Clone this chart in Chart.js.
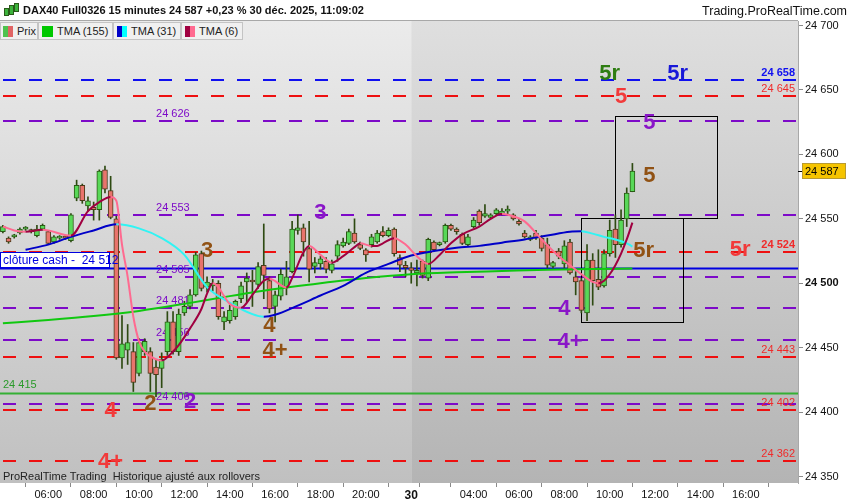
<!DOCTYPE html>
<html><head><meta charset="utf-8">
<script src="https://cdn.jsdelivr.net/npm/chart.js@4/dist/chart.umd.min.js"></script>
<style>
html,body{margin:0;padding:0;background:#fff;}
#wrap{position:relative;width:850px;height:500px;overflow:hidden;font-family:"Liberation Sans",Arial,sans-serif;}
#c{position:absolute;left:0;top:0;}
#title{position:absolute;left:23px;top:4px;font-weight:bold;font-size:11px;color:#111;white-space:nowrap;}
#icon{position:absolute;left:4px;top:3px;width:14px;height:15px;}
#icon span{position:absolute;width:3px;background:#3cb43c;border:1px solid #2a5a1a;}
#site{position:absolute;right:3px;top:4px;font-size:12.5px;color:#111;white-space:nowrap;}
.lg{position:absolute;top:22px;height:18px;background:#f0f0f0;border:1px solid #c4c4c4;font-size:11px;line-height:17px;color:#222;box-sizing:border-box;white-space:nowrap;}
.lg b{font-weight:normal;position:absolute;top:0;}
.sw{position:absolute;top:3px;width:5px;height:11px;}
#foot{position:absolute;left:3px;top:470px;font-size:11px;color:#222;white-space:nowrap;}
</style></head>
<body>
<div id="wrap">
<canvas id="c" width="850" height="500"></canvas>
<div id="icon"><span style="left:0;top:5px;height:6px"></span><span style="left:5px;top:2px;height:8px"></span><span style="left:10px;top:0;height:7px"></span></div>
<div id="title">DAX40 Full0326 15 minutes 24 587 +0,23 % 30 déc. 2025, 11:09:02</div>
<div id="site">Trading.ProRealTime.com</div>
<div class="lg" style="left:0;width:38px"><span class="sw" style="left:2px;background:#4ec24e"></span><span class="sw" style="left:7px;background:#e06464"></span><b style="left:16px">Prix</b></div>
<div class="lg" style="left:38px;width:75px"><span class="sw" style="left:3px;width:11px;background:#00c800"></span><b style="left:18px">TMA (155)</b></div>
<div class="lg" style="left:113px;width:68px"><span class="sw" style="left:3px;background:#0000c8"></span><span class="sw" style="left:8px;background:#00ffff"></span><b style="left:17px">TMA (31)</b></div>
<div class="lg" style="left:181px;width:62px"><span class="sw" style="left:3px;background:#a00040"></span><span class="sw" style="left:8px;background:#ff6a90"></span><b style="left:17px">TMA (6)</b></div>
<div id="foot">ProRealTime Trading&nbsp; Historique ajusté aux rollovers</div>
</div>
<script>
// ---------- categories (15-minute candles) ----------
const day29Start = "04:00", day29End = "21:45", day30Start = "01:15", day30End = "11:00";
function toMin(s){const [h,m]=s.split(':').map(Number);return h*60+m;}
function slotOf(t){ // t = "29 06:00"
  const [d,hm]=t.split(' ');
  if(d==='29') return (toMin(hm)-toMin(day29Start))/15;
  const n29=(toMin(day29End)-toMin(day29Start))/15+1;
  return n29+(toMin(hm)-toMin(day30Start))/15;
}
const candleTimes=[];
for(let m=toMin(day29Start);m<=toMin(day29End);m+=15) candleTimes.push('29 '+String(Math.floor(m/60)).padStart(2,'0')+':'+String(m%60).padStart(2,'0'));
for(let m=toMin(day30Start);m<=toMin(day30End);m+=15) candleTimes.push('30 '+String(Math.floor(m/60)).padStart(2,'0')+':'+String(m%60).padStart(2,'0'));

// ---------- OHLC ----------
const opens=[24540,24535,24536,24539,24542,24541,24537,24542,24540,24532,24535,24536,24533,24566,24576,24560,24559,24557,24588,24572,
24550,24442,24448,24447,24430,24447,24447,24435,24434,24447,24470,24447,24477,24482,24491,24523,24497,24498,24500,24470,
24471,24474,24488,24501,24502,24499,24514,24502,24482,24490,24497,24509,24541,24543,24527,24513,24515,24517,24510,24521,
24529,24531,24539,24530,24526,24530,24532,24540,24537,24542,24520,24514,
24512,24508,24517,24504,24532,24530,24532,24545,24542,24538,24530,24544,24556,24552,24551,24554,24554,24556,24553,24548,
24539,24534,24539,24535,24530,24513,24525,24515,24532,24505,24502,24477,24518,24503,24498,24523,24542,24530,24550,24571];
const highs=[24545,24536,24538,24543,24544,24542,24545,24546,24541,24537,24537,24537,24554,24580,24577,24567,24563,24588,24591,24583,
24552,24475,24468,24454,24457,24457,24450,24441,24446,24478,24478,24480,24486,24495,24524,24525,24505,24503,24502,24478,
24483,24487,24501,24508,24510,24516,24546,24505,24494,24511,24517,24548,24553,24546,24548,24520,24521,24520,24518,24533,
24535,24542,24550,24532,24527,24538,24541,24544,24543,24543,24522,24517,
24516,24518,24518,24535,24533,24532,24546,24546,24543,24539,24538,24551,24557,24561,24554,24558,24558,24560,24554,24550,
24541,24537,24541,24537,24535,24517,24527,24533,24534,24509,24504,24530,24523,24526,24526,24549,24553,24557,24574,24593];
const lows=[24539,24531,24535,24538,24541,24539,24536,24541,24530,24531,24534,24534,24532,24564,24562,24556,24549,24549,24570,24550,
24441,24434,24437,24416,24428,24444,24416,24412,24419,24444,24445,24444,24475,24480,24490,24494,24493,24494,24472,24464,
24469,24472,24485,24485,24482,24496,24488,24477,24470,24487,24491,24508,24538,24521,24501,24508,24511,24508,24508,24517,
24528,24530,24531,24526,24517,24528,24531,24536,24536,24521,24509,24505,
24500,24498,24504,24502,24525,24529,24531,24541,24538,24530,24529,24543,24545,24551,24550,24553,24553,24553,24549,24545,
24535,24533,24534,24525,24512,24512,24519,24512,24507,24491,24477,24471,24483,24495,24497,24521,24520,24528,24544,24571];
const closes=[24544,24532,24537,24542,24543,24540,24542,24545,24531,24536,24536,24535,24553,24576,24564,24564,24557,24587,24573,24551,
24442,24453,24454,24423,24454,24455,24430,24429,24441,24470,24447,24476,24482,24491,24522,24496,24501,24500,24474,24474,
24479,24486,24498,24504,24501,24513,24506,24480,24491,24507,24505,24542,24543,24532,24511,24516,24519,24511,24515,24530,
24532,24540,24532,24527,24522,24536,24539,24537,24541,24523,24514,24512,
24510,24510,24506,24534,24526,24531,24545,24542,24540,24531,24536,24549,24547,24554,24553,24557,24556,24557,24550,24546,
24536,24536,24535,24527,24514,24516,24521,24529,24508,24501,24479,24518,24502,24497,24523,24541,24530,24549,24570,24587];

// ---------- moving averages (read at key candles) ----------
const tma155Times=["29 04:00","29 06:00","29 08:00","29 10:00","29 12:00","29 14:00","29 16:00","29 18:00","29 20:00","30 01:15","30 03:15","30 05:15","30 07:15","30 09:15","30 11:00"];
const tma155Vals=[24469,24471.5,24474.5,24478.5,24484,24490,24495.5,24500,24504,24507,24508.5,24509.5,24510.5,24511,24511.5];
const tma31Times=["29 05:00","29 06:00","29 07:00","29 08:00","29 09:00","29 10:00","29 11:00","29 12:00","29 13:00","29 14:00","29 15:00","29 15:30","29 16:00","29 17:00","29 18:00","29 19:00","29 20:00","29 21:00","30 01:15","30 02:15","30 03:15","30 04:15","30 05:15","30 06:15","30 07:15","30 08:15","30 08:45","30 09:15","30 09:45","30 10:15","30 10:45","30 11:00"];
const tma31Vals=[24526,24530,24536,24541,24545.7,24542.6,24535,24522,24497,24485,24476,24474,24475.5,24482.6,24490.5,24498,24508,24515,24521.5,24525,24527.5,24529,24531.5,24534,24537,24540,24540.3,24538.5,24536,24534,24531,24528.5];
const tma6Times=["29 04:00","29 04:30","29 05:00","29 05:45","29 07:00","29 07:45","29 08:15","29 08:45","29 09:00","29 09:15","29 09:30","29 09:45","29 10:00","29 10:15","29 10:45","29 11:00","29 11:30","29 11:45","29 12:15","29 12:45","29 13:00","29 13:15","29 13:30","29 13:45","29 14:00","29 14:30","29 15:00","29 15:30","29 15:45","29 16:30","29 16:45","29 17:15","29 17:30","29 18:00","29 18:30","29 19:00","29 19:30","29 19:45","29 20:15","29 20:30","29 20:45","29 21:15","29 21:45","30 01:30","30 02:00","30 02:30","30 03:00","30 03:30","30 04:15","30 04:45","30 05:15","30 05:45","30 06:15","30 07:00","30 07:45","30 08:15","30 08:45","30 09:15","30 09:30","30 09:45","30 10:00","30 10:15","30 10:30","30 10:45","30 11:00"];
const tma6Vals=[24544,24541,24540,24541.5,24537,24556,24563,24567,24564,24530,24505,24474,24455,24447,24441,24440,24447,24452,24465,24480,24492,24500,24497,24490,24484,24481,24491,24502,24503.5,24496.7,24504,24524,24529,24522,24516,24521,24528,24531,24529,24529,24531,24535,24530,24521,24515,24522,24531,24538,24544,24550,24554,24552,24548,24534,24521,24514,24507,24501,24500,24502,24507,24514,24523,24534,24547];

// ---------- levels ----------
const blueLevels=[24658];
const blueLevelLabels=["24 658"];
const redLevels=[24645,24524,24443,24402,24362];
const redLevelLabels=["24 645","24 524","24 443","24 402","24 362"];
const purpleLevels=[24626,24553,24505,24481,24456,24406];
const purpleLevelLabels=["24 626","24 553","24 505","24 481","24 456","24 406"];
const cashClose=24512, cashLabel="clôture cash -  24 512";
const supportLevel=24415, supportLabel="24 415";
const lastPrice=24587, lastLabel="24 587";

// ---------- wave annotations [text, time, price, colour-key] ----------
const waveText =["5r","5r","5","5","5","5r","5r","3","3","4","4+","4","4+","4","2","2","4+"];
const waveTime =["30 10:00","30 13:00","30 10:30","30 11:45","30 11:45","30 11:30","30 15:45","29 18:00","29 13:00","29 15:45","29 16:00","30 08:00","30 08:15","29 08:45","29 10:30","29 12:15","29 08:45"];
const wavePrice=[24663,24663,24645,24625,24584,24526,24527,24555,24526,24468,24448,24481,24455,24402,24407,24409,24362];
const waveColor=["green","blue","red","purple","brown","brown","red","purple","brown","brown","brown","purple","purple","red","brown","purple","red"];
// boxes [time from, time to, price top, price bottom]
const boxFrom=["30 10:15","30 08:45"], boxTo=["30 14:45","30 13:15"], boxTop=[24630,24550.5], boxBottom=[24550.5,24470];

// ---------- axis ticks ----------
const tickTimes=["29 06:00","29 08:00","29 10:00","29 12:00","29 14:00","29 16:00","29 18:00","29 20:00","30 01:15","30 02:00","30 04:00","30 06:00","30 08:00","30 10:00","30 12:00","30 14:00","30 16:00"];
const tickLabels=["06:00","08:00","10:00","12:00","14:00","16:00","18:00","20:00","30","","04:00","06:00","08:00","10:00","12:00","14:00","16:00"];
const priceTicks=[24350,24400,24450,24500,24550,24600,24650,24700];

// ---------- styles ----------
const FONT='"Liberation Sans", Arial, sans-serif';
const COL={green:'#2e7d12',blue:'#1818d8',red:'#f23a3a',purple:'#8a16c8',brown:'#915214'};
const fmt=v=>String(v).replace(/(\d{2})(\d{3})$/,'$1 $2');

const xs=candleTimes.map(slotOf);
const bodies=opens.map((o,i)=>({x:xs[i],y:[o,closes[i]]}));
const wicks=lows.map((l,i)=>({x:xs[i],y:[l,highs[i]]}));
const up=opens.map((o,i)=>closes[i]>=o);
const pts=(t,v)=>t.map((s,i)=>({x:slotOf(s),y:v[i]}));
const dayBreak=slotOf("30 01:15");

const decor={
  id:'decor',
  beforeDraw(chart){
    const {ctx,chartArea:a,scales:{x}}=chart;
    const s=x.getPixelForValue(dayBreak);
    ctx.save();
    let g=ctx.createLinearGradient(0,a.top,0,a.bottom);
    g.addColorStop(0,'#ebebeb');g.addColorStop(1,'#c0c0c0');
    ctx.fillStyle=g;ctx.fillRect(a.left,a.top,s-a.left,a.bottom-a.top);
    g=ctx.createLinearGradient(0,a.top,0,a.bottom);
    g.addColorStop(0,'#dfdfdf');g.addColorStop(1,'#b4b4b4');
    ctx.fillStyle=g;ctx.fillRect(s,a.top,a.right-s,a.bottom-a.top);
    ctx.strokeStyle='#a8a8a8';ctx.lineWidth=1;
    ctx.beginPath();ctx.moveTo(a.left,a.top-0.5);ctx.lineTo(a.right,a.top-0.5);ctx.stroke();
    ctx.restore();
  },
  beforeDatasetsDraw(chart){
    const {ctx,chartArea:a,scales:{x,y}}=chart;
    ctx.save();
    ctx.beginPath();ctx.rect(a.left,a.top,a.right-a.left,a.bottom-a.top);ctx.clip();
    const dash=(v,c)=>{const py=Math.round(y.getPixelForValue(v));ctx.strokeStyle=c;ctx.lineWidth=2;ctx.setLineDash([13,13]);ctx.beginPath();ctx.moveTo(a.left+3,py);ctx.lineTo(a.right,py);ctx.stroke();};
    const solid=(v,c)=>{const py=Math.round(y.getPixelForValue(v))+0.5;ctx.strokeStyle=c;ctx.lineWidth=2;ctx.setLineDash([]);ctx.beginPath();ctx.moveTo(a.left,py);ctx.lineTo(a.right,py);ctx.stroke();};
    purpleLevels.forEach(v=>dash(v,'#7d0ac8'));
    redLevels.forEach(v=>dash(v,'#ee1010'));
    blueLevels.forEach(v=>dash(v,'#1010f0'));
    solid(supportLevel,'#34b034');
    solid(cashClose,'#0000e0');
    ctx.setLineDash([]);
    // level labels
    ctx.textBaseline='alphabetic';
    ctx.textAlign='left';ctx.font='11px '+FONT;ctx.fillStyle='#7d0ac8';
    const lx=x.getPixelForValue(slotOf("29 10:45"));
    purpleLevels.forEach((v,i)=>ctx.fillText(purpleLevelLabels[i],lx,y.getPixelForValue(v)-4));
    ctx.textAlign='right';
    redLevels.forEach((v,i)=>{ctx.font=(v===24524?'bold ':'')+'11px '+FONT;ctx.fillStyle='#f02a2a';ctx.fillText(redLevelLabels[i],a.right-3,y.getPixelForValue(v)-4);});
    ctx.font='bold 11px '+FONT;ctx.fillStyle='#1010f0';
    blueLevels.forEach((v,i)=>ctx.fillText(blueLevelLabels[i],a.right-3,y.getPixelForValue(v)-4));
    ctx.textAlign='left';ctx.font='11px '+FONT;ctx.fillStyle='#2a9a2a';
    ctx.fillText(supportLabel,a.left+3,y.getPixelForValue(supportLevel)-5);
    // boxes
    ctx.strokeStyle='#000';ctx.lineWidth=1;
    boxFrom.forEach((t,i)=>{const x0=Math.round(x.getPixelForValue(slotOf(t)))+0.5,x1=Math.round(x.getPixelForValue(slotOf(boxTo[i])))+0.5;
      const y0=Math.round(y.getPixelForValue(boxTop[i]))+0.5,y1=Math.round(y.getPixelForValue(boxBottom[i]))+0.5;ctx.strokeRect(x0,y0,x1-x0,y1-y0);});
    // wave labels
    ctx.font='bold 22px '+FONT;ctx.textAlign='center';ctx.textBaseline='middle';
    waveText.forEach((t,i)=>{ctx.fillStyle=COL[waveColor[i]];ctx.fillText(t,x.getPixelForValue(slotOf(waveTime[i])),y.getPixelForValue(wavePrice[i])+1);});
    ctx.restore();
  },
  afterDatasetsDraw(chart){
    const {ctx,chartArea:a,scales:{x,y}}=chart;
    ctx.save();
    // cash close box
    const cy=Math.round(y.getPixelForValue(cashClose));
    ctx.fillStyle='#fff';ctx.fillRect(a.left,cy-16,110,16);
    ctx.strokeStyle='#0000e0';ctx.lineWidth=1;ctx.strokeRect(a.left+0.5,cy-15.5,109,15);
    ctx.fillStyle='#0000e0';ctx.font='12px '+FONT;ctx.textBaseline='middle';ctx.textAlign='left';
    ctx.fillText(cashLabel,a.left+3,cy-7.5);
    // last price tag
    const py=Math.round(y.getPixelForValue(lastPrice));
    ctx.fillStyle='#f5c400';ctx.fillRect(a.right+4,py-8,44,16);
    ctx.strokeStyle='#b89a30';ctx.strokeRect(a.right+4.5,py-7.5,43,15);
    ctx.strokeStyle='#000';ctx.beginPath();ctx.moveTo(a.right,py+0.5);ctx.lineTo(a.right+4,py+0.5);ctx.stroke();
    ctx.fillStyle='#000';ctx.font='11px '+FONT;ctx.fillText(lastLabel,a.right+7,py+0.5);
    ctx.restore();
  }
};

new Chart(document.getElementById('c'),{
  type:'bar',
  data:{datasets:[
    {type:'line',label:'TMA (6)',data:pts(tma6Times,tma6Vals),borderWidth:2,pointRadius:0,cubicInterpolationMode:'monotone',order:0,
      segment:{borderColor:c=>c.p1.parsed.y>=c.p0.parsed.y?'#a00040':'#ff6a90'},borderColor:'#a00040'},
    {type:'line',label:'TMA (31)',data:pts(tma31Times,tma31Vals),borderWidth:2,pointRadius:0,cubicInterpolationMode:'monotone',order:1,
      segment:{borderColor:c=>c.p1.parsed.y>=c.p0.parsed.y?'#0000c8':'#30f4f4'},borderColor:'#0000c8'},
    {type:'line',label:'TMA (155)',data:pts(tma155Times,tma155Vals),borderWidth:2,pointRadius:0,cubicInterpolationMode:'monotone',order:2,borderColor:'#10c810'},
    {label:'body',data:bodies,grouped:false,barThickness:5,minBarLength:2,borderWidth:1,borderSkipped:false,order:3,
      backgroundColor:up.map(u=>u?'#58d858':'#e8746c'),borderColor:up.map(u=>u?'#2a5a14':'#4a3a1a')},
    {label:'wick',data:wicks,grouped:false,barThickness:1,borderWidth:0,order:4,backgroundColor:'#2e4a12'}
  ]},
  options:{
    responsive:false,animation:false,
    layout:{padding:{top:21,left:0,right:0,bottom:0}},
    plugins:{legend:{display:false},tooltip:{enabled:false}},
    scales:{
      x:{type:'linear',min:-0.51,max:140.2,offset:false,
        afterBuildTicks:s=>{s.ticks=tickTimes.map(t=>({value:slotOf(t)}));},
        afterFit:s=>{s.height=17;},
        ticks:{autoSkip:false,maxRotation:0,padding:1,color:'#111',
          callback:(v,i)=>tickLabels[i],
          font:c=>({family:FONT,size:(c.tick&&c.tick.value===dayBreak)?12:11,weight:(c.tick&&c.tick.value===dayBreak)?'bold':'normal'})},
        grid:{drawOnChartArea:false,tickLength:4,color:'#8a8a8a'},border:{display:false}},
      y:{type:'linear',position:'right',min:24345,max:24703.5,
        afterBuildTicks:s=>{s.ticks=priceTicks.map(v=>({value:v}));},
        afterFit:s=>{s.width=52;},
        ticks:{padding:2,color:'#111',callback:v=>fmt(v),
          font:c=>({family:FONT,size:11,weight:(c.tick&&c.tick.value===24500)?'bold':'normal'})},
        grid:{drawOnChartArea:false,tickLength:5,color:'#8a8a8a'},border:{display:true,color:'#a8a8a8'}}
    }
  },
  plugins:[decor]
});
</script>
</body></html>
